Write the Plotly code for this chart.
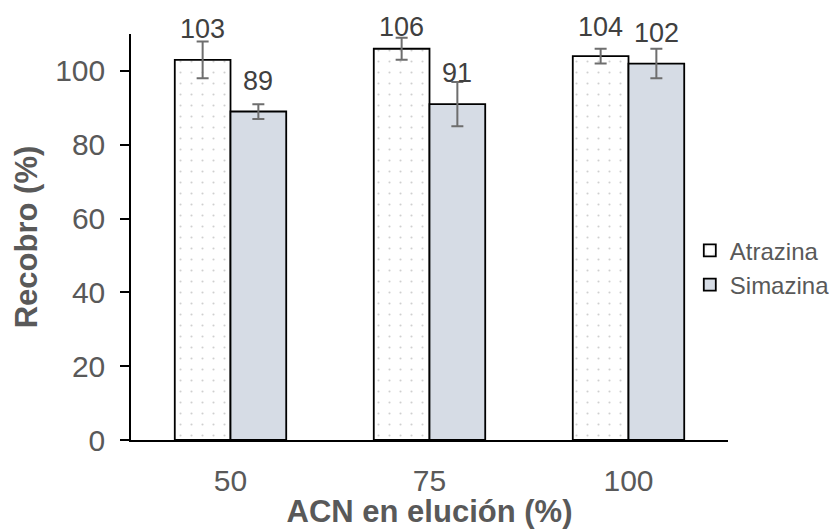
import plotly.graph_objects as go

categories = ["50", "75", "100"]
atrazina = [103, 106, 104]
atrazina_err = [5, 3, 2]
simazina = [89, 91, 102]
simazina_err = [2, 6, 4]
y_ticks = [0, 20, 40, 60, 80, 100]

FONT = "Liberation Sans, Arial, sans-serif"
BARGAP = 0.44
LABEL_SHIFT = 31      # px above the bar top
LABEL_ANCHOR_MAX = 103.5  # keep labels inside the figure

fig = go.Figure()
fig.add_trace(go.Bar(
    name="Atrazina", x=list(range(len(categories))), y=atrazina,
    marker=dict(color="white", line=dict(color="black", width=1.8),
                pattern=dict(shape=".", size=11, solidity=0.03,
                             fgcolor="#A0A0A0", bgcolor="white")),
    error_y=dict(type="data", array=atrazina_err, color="#6E6E6E",
                 thickness=2, width=6),
))
fig.add_trace(go.Bar(
    name="Simazina", x=list(range(len(categories))), y=simazina,
    marker=dict(color="#D6DCE5", line=dict(color="black", width=1.8)),
    error_y=dict(type="data", array=simazina_err, color="#6E6E6E",
                 thickness=2, width=6),
))

half = (1 - BARGAP) / 4
annotations = []
for i, (a, s) in enumerate(zip(atrazina, simazina)):
    for xv, val in ((i - half, a), (i + half, s)):
        annotations.append(dict(
            x=xv, y=min(val, LABEL_ANCHOR_MAX), xref="x", yref="y",
            yshift=LABEL_SHIFT, text=str(val), showarrow=False, yanchor="middle",
            font=dict(family=FONT, size=27, color="#404040")))

# the page body adds an 8px offset, so the figure is 8px smaller on the top/left
fig.update_layout(
    width=829, height=521,
    margin=dict(l=123, r=109, t=26, b=89, autoexpand=False),
    paper_bgcolor="white", plot_bgcolor="white",
    barmode="group", bargap=BARGAP, bargroupgap=0,
    font=dict(family=FONT, color="#595959"),
    showlegend=True,
    legend=dict(x=0.936, y=0.424, xanchor="left", yanchor="middle",
                font=dict(family=FONT, size=24, color="#595959"),
                itemwidth=30, bgcolor="rgba(0,0,0,0)"),
    annotations=annotations,
    xaxis=dict(
        tickmode="array", tickvals=list(range(len(categories))), ticktext=categories,
        range=[-0.5, len(categories) - 0.5],
        showline=True, linecolor="black", linewidth=1.5,
        showgrid=False, zeroline=False, ticks="",
        ticklabelstandoff=13,
        tickfont=dict(family=FONT, size=30, color="#595959"),
        title=dict(text="<b>ACN en elución (%)</b>", standoff=4,
                   font=dict(family=FONT, size=31, color="#595959")),
    ),
    yaxis=dict(
        range=[0, 110], tickmode="array", tickvals=y_ticks,
        showline=True, linecolor="black", linewidth=1.5,
        showgrid=False, zeroline=False,
        ticks="outside", ticklen=9, tickcolor="black", tickwidth=1.5,
        ticklabelstandoff=9,
        tickfont=dict(family=FONT, size=30, color="#595959"),
        title=dict(text="<b>Recobro (%)</b>", standoff=8,
                   font=dict(family=FONT, size=31, color="#595959")),
    ),
)

fig.write_html("out.html")
